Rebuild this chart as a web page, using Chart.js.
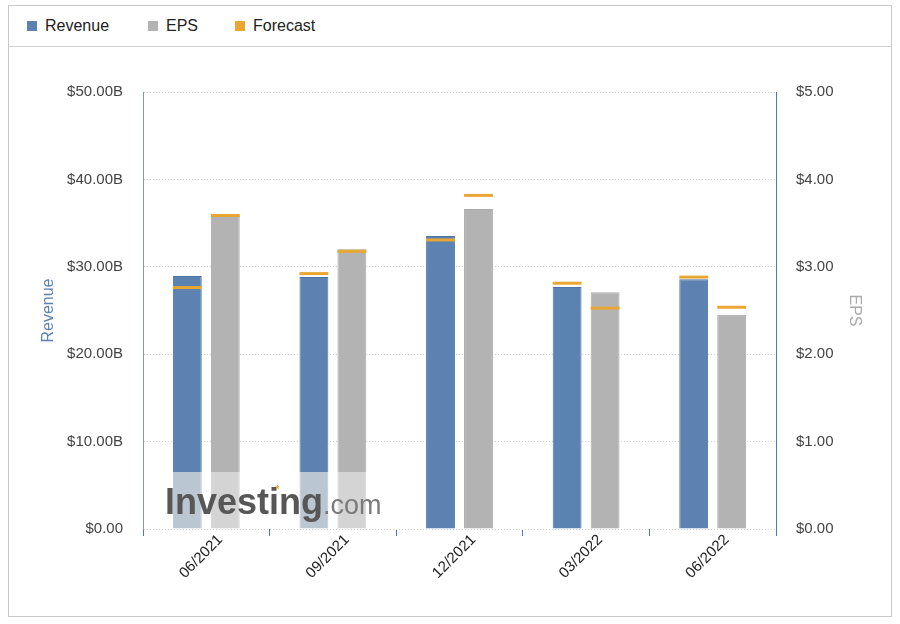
<!DOCTYPE html>
<html>
<head>
<meta charset="utf-8">
<script src="https://cdn.jsdelivr.net/npm/chart.js@4.4.1/dist/chart.umd.min.js"></script>
<style>
  body { margin: 0; background: #fff; font-family: "Liberation Sans", Arial, sans-serif; }
  #box { position: absolute; left: 8px; top: 5px; width: 884px; height: 612px; border: 1px solid #c9c9c9; box-sizing: border-box; }
  #legend { position: absolute; left: 0; top: 0; width: 882px; height: 40px; border-bottom: 1px solid #cfcfcf; }
  .item { position: absolute; top: 10px; font-size: 16px; color: #222; line-height: 20px; }
  .item span { position: absolute; left: 0; top: 5px; width: 10px; height: 10px; }
  .item b { font-weight: normal; margin-left: 18px; }
  #wrap { position: absolute; left: 0; top: 41px; width: 882px; height: 570px; }
</style>
</head>
<body>
<div id="box">
  <div id="legend">
    <div class="item" style="left:18px"><span style="background:#5b82b0"></span><b>Revenue</b></div>
    <div class="item" style="left:139px"><span style="background:#b3b3b3"></span><b>EPS</b></div>
    <div class="item" style="left:226px"><span style="background:#e9a632"></span><b>Forecast</b></div>
  </div>
  <div id="wrap"><canvas id="chart"></canvas></div>
</div>
<script>
// quý
const categories = ['06/2021', '09/2021', '12/2021', '03/2022', '06/2022'];
// doanh thu (tỷ USD)
const revenue = [28.95, 28.83, 33.52, 27.70, 28.57];
const revenueForecast = [27.45, 29.05, 32.90, 27.95, 28.65];
// EPS (USD)
const eps = [3.59, 3.20, 3.66, 2.71, 2.45];
const epsForecast = [3.57, 3.16, 3.80, 2.51, 2.52];

const BLUE = '#5b82b0';
const GREY = '#b3b3b3';
const ORANGE = '#e9a632';

// logo mờ Investing.com
const watermark = {
  id: 'watermark',
  afterDatasetsDraw(chart) {
    const ctx = chart.ctx;
    const a = chart.chartArea;
    ctx.save();
    ctx.globalCompositeOperation = 'source-atop';
    ctx.fillStyle = 'rgba(225,225,225,0.72)';
    ctx.fillRect(a.left + 20, a.bottom - 57, 222, 57);
    ctx.restore();
    ctx.save();
    ctx.textBaseline = 'alphabetic';
    ctx.font = 'bold 36px "Liberation Sans", Arial, sans-serif';
    ctx.fillStyle = '#575757';
    ctx.fillText('Investing', a.left + 22, a.bottom - 15);
    const w = ctx.measureText('Investing').width;
    ctx.font = '27px "Liberation Sans", Arial, sans-serif';
    ctx.fillStyle = '#7a7a7a';
    ctx.fillText('.com', a.left + 22 + w, a.bottom - 15);
    ctx.fillStyle = ORANGE;
    ctx.font = 'bold 10px "Liberation Sans", Arial, sans-serif';
    ctx.fillText('*', a.left + 22 + w * 0.7, a.bottom - 36);
    ctx.restore();
  }
};

const tickFont = { family: '"Liberation Sans", Arial, sans-serif', size: 15 };

new Chart(document.getElementById('chart'), {
  type: 'bar',
  data: {
    labels: categories,
    datasets: [
      {
        label: 'Revenue',
        data: revenue,
        yAxisID: 'y',
        stack: 'rev',
        order: 1,
        backgroundColor: BLUE,
        borderColor: '#4a73a6',
        borderWidth: 1
      },
      {
        label: 'EPS',
        data: eps,
        yAxisID: 'y1',
        stack: 'eps',
        order: 1,
        backgroundColor: GREY,
        borderColor: '#a8a8a8',
        borderWidth: 1
      },
      {
        label: 'Forecast',
        data: revenueForecast.map(v => [v, v]),
        yAxisID: 'y',
        stack: 'rev',
        order: 0,
        backgroundColor: ORANGE,
        borderWidth: 0,
        minBarLength: 3
      },
      {
        label: 'Forecast EPS',
        data: epsForecast.map(v => [v, v]),
        yAxisID: 'y1',
        stack: 'eps',
        order: 0,
        backgroundColor: ORANGE,
        borderWidth: 0,
        minBarLength: 3
      }
    ]
  },
  options: {
    responsive: true,
    maintainAspectRatio: false,
    animation: false,
    categoryPercentage: 0.6,
    barPercentage: 0.76,
    layout: { padding: { top: 45 } },
    plugins: {
      legend: { display: false },
      tooltip: { enabled: false }
    },
    scales: {
      x: {
        grid: { drawOnChartArea: false, drawTicks: true, tickLength: 7, color: '#4a78b0' },
        border: { display: false },
        ticks: { color: '#222', font: tickFont, maxRotation: 45, minRotation: 45, padding: -5, labelOffset: 14 },
        afterFit: s => { s.height = 88; }
      },
      y: {
        position: 'left',
        min: 0,
        max: 50,
        stacked: false,
        grid: { color: '#d2d2d2', drawTicks: false },
        border: { color: '#8296b0', dash: [1, 2] },
        ticks: { stepSize: 10, color: '#444', font: tickFont, padding: 20, callback: v => v === 0 ? '$0.00' : '$' + v.toFixed(2) + 'B' },
        title: { display: true, text: 'Revenue', color: BLUE, font: { family: '"Liberation Sans", Arial, sans-serif', size: 16 }, padding: { top: 30, bottom: 0 } },
        afterFit: s => { s.width = 134; }
      },
      y1: {
        position: 'right',
        min: 0,
        max: 5,
        stacked: false,
        grid: { drawOnChartArea: false, drawTicks: false },
        border: { color: '#4a78b0' },
        ticks: { stepSize: 1, color: '#444', font: tickFont, padding: 20, callback: v => '$' + v.toFixed(2) },
        title: { display: true, text: 'EPS', color: '#aaaaaa', font: { family: '"Liberation Sans", Arial, sans-serif', size: 16 }, padding: { top: 27, bottom: 0 } },
        afterFit: s => { s.width = 115; }
      }
    }
  },
  plugins: [watermark]
});
</script>
</body>
</html>
